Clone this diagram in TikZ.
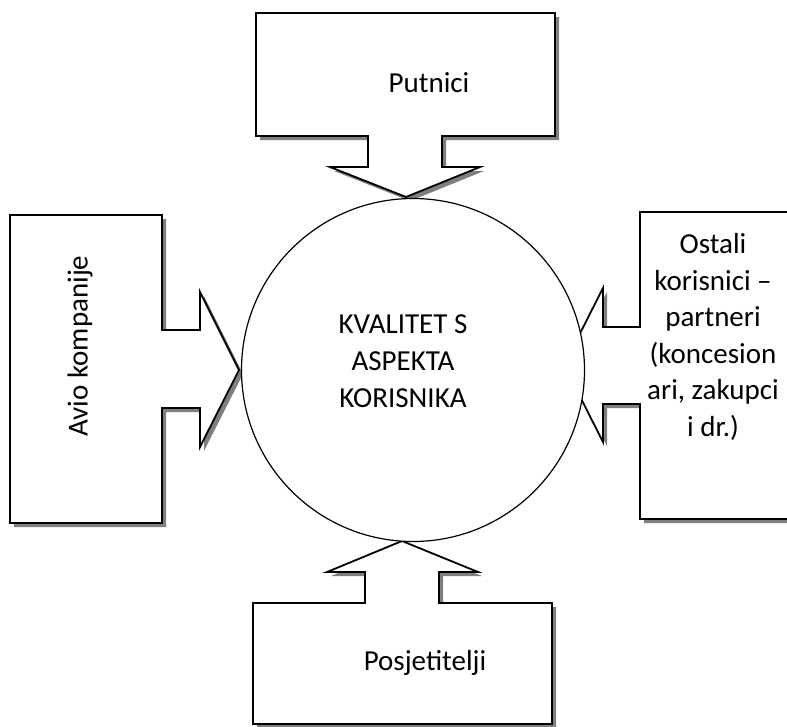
\documentclass[tikz,border=0pt]{standalone}
\usepackage{fontspec}
\setmainfont{Carlito}
\begin{document}
\begin{tikzpicture}[x=1pt,y=-1pt,
  callout/.style={draw=black,fill=white,line width=1.8pt,line join=miter},
  shadowfill/.style={fill=shadowgray,draw=none},
  lbl/.style={font=\fontsize{29}{34}\selectfont,align=center,inner sep=0pt}]
\definecolor{shadowgray}{HTML}{7F7F7F}
\useasboundingbox (0,0) rectangle (787,726);
\clip (0,0) rectangle (787,726);
\def\toppath{(256,13) -- (555,13) -- (555,136) -- (442,136) -- (442,167) -- (480,167) -- (406,197) -- (330,167) -- (368,167) -- (368,136) -- (256,136) -- cycle}
\def\leftpath{(10,215) -- (162,215) -- (162,330) -- (200,330) -- (200,292) -- (239,370) -- (200,447) -- (200,408) -- (162,408) -- (162,523) -- (10,523) -- cycle}
\def\rightpath{(800,212) -- (640,212) -- (640,327) -- (603,327) -- (603,288) -- (564,365) -- (603,442) -- (603,404) -- (640,404) -- (640,519) -- (800,519) -- cycle}
\def\bottompath{(402,541) -- (478,572) -- (439,572) -- (439,603) -- (552,603) -- (552,724) -- (253,724) -- (253,603) -- (365,603) -- (365,572) -- (327,572) -- cycle}
\begin{scope}[shift={(4,4)}]
  \fill[shadowfill] \toppath;
  \fill[shadowfill] \leftpath;
  \fill[shadowfill] \rightpath;
  \fill[shadowfill] \bottompath;
\end{scope}
\draw[callout] \toppath;
\draw[callout] \leftpath;
\draw[callout] \rightpath;
\draw[callout] \bottompath;
\node[circle,draw=black,fill=white,line width=1.2pt,minimum size=343pt,inner sep=0pt] (c) at (413,370) {};
\node[lbl,font=\fontsize{29}{37}\selectfont] (ct) at (403,361) {KVALITET S\\ASPEKTA\\KORISNIKA};
\node[lbl] (putnici) at (429,83) {Putnici};
\node[lbl,rotate=90] (avio) at (80,346) {Avio kompanije};
\node[lbl,font=\fontsize{29}{36.6}\selectfont] (ostali) at (713,337) {Ostali\\korisnici –\\partneri\\(koncesion\\ari, zakupci\\i dr.)};
\node[lbl] (posj) at (425,663) {Posjetitelji};
\end{tikzpicture}
\end{document}
